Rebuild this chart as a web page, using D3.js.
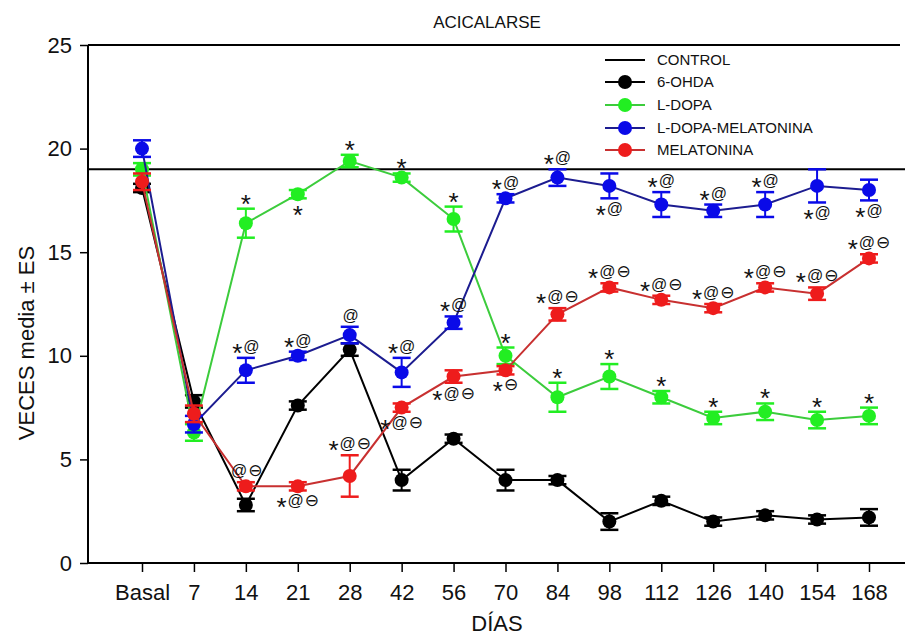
<!DOCTYPE html>
<html>
 <head>
  <title>Acicalarse</title>
  <script src="https://cdnjs.cloudflare.com/ajax/libs/d3/7.8.3/d3.min.js"></script>
  <style>
   body { margin: 0; background: #fff; }
   text { font-family: "Liberation Sans", Arial, sans-serif; fill: #111; }
  </style>
 </head>
 <body>
  <script>
   // values
   const days = ["Basal", "7", "14", "21", "28", "42", "56", "70", "84", "98", "112", "126", "140", "154", "168"];
   const control = 19;

   const ohda     = [18.1, 7.8, 2.8, 7.6, 10.3, 4.0, 6.0, 4.0, 4.0, 2.0, 3.0, 2.0, 2.3, 2.1, 2.2];
   const ohdaErr  = [0.2, 0.3, 0.3, 0.2, 0.3, 0.5, 0.2, 0.5, 0.2, 0.4, 0.2, 0.2, 0.2, 0.2, 0.4];
   const ldopa    = [19.0, 6.3, 16.4, 17.8, 19.4, 18.6, 16.6, 10.0, 8.0, 9.0, 8.0, 7.0, 7.3, 6.9, 7.1];
   const ldopaErr = [0.3, 0.4, 0.7, 0.2, 0.3, 0.2, 0.6, 0.4, 0.7, 0.6, 0.3, 0.3, 0.4, 0.4, 0.4];
   const ldmel    = [20.0, 6.7, 9.3, 10.0, 11.0, 9.2, 11.6, 17.6, 18.6, 18.2, 17.3, 17.0, 17.3, 18.2, 18.0];
   const ldmelErr = [0.4, 0.4, 0.6, 0.2, 0.4, 0.7, 0.3, 0.2, 0.4, 0.6, 0.6, 0.3, 0.6, 0.8, 0.5];
   const mel      = [18.4, 7.2, 3.7, 3.7, 4.2, 7.5, 9.0, 9.3, 12.0, 13.3, 12.7, 12.3, 13.3, 13.0, 14.7];
   const melErr   = [0.4, 0.4, 0.2, 0.2, 1.0, 0.2, 0.3, 0.2, 0.3, 0.2, 0.2, 0.2, 0.2, 0.3, 0.2];

   // significance marks: [day, text, above/below]
   const ldopaMarks = [["14","*","a"],["21","*","b"],["28","*","a"],["42","*","a"],["56","*","a"],["70","*","a"],
                       ["84","*","a"],["98","*","a"],["112","*","a"],["126","*","a"],["140","*","a"],["154","*","a"],["168","*","a"]];
   const ldmelMarks = [["14","*@","a"],["21","*@","a"],["28","@","a"],["42","*@","a"],["56","*@","a"],["70","*@","a"],
                       ["84","*@","a"],["98","*@","b"],["112","*@","a"],["126","*@","a"],["140","*@","a"],["154","*@","b"],["168","*@","b"]];
   const melMarks   = [["14","@⊖","a"],["21","*@⊖","b"],["28","*@⊖","a"],["42","*@⊖","b"],["56","*@⊖","b"],["70","*⊖","b"],
                       ["84","*@⊖","a"],["98","*@⊖","a"],["112","*@⊖","a"],["126","*@⊖","a"],["140","*@⊖","a"],["154","*@⊖","a"],["168","*@⊖","a"]];

   const series = [
    {name: "6-OHDA", vals: ohda, err: ohdaErr, line: "#000", fill: "#000", marks: []},
    {name: "L-DOPA", vals: ldopa, err: ldopaErr, line: "#3ccc3c", fill: "#22ee22", marks: ldopaMarks},
    {name: "L-DOPA-MELATONINA", vals: ldmel, err: ldmelErr, line: "#1c1c90", fill: "#0a0ae8", marks: ldmelMarks},
    {name: "MELATONINA", vals: mel, err: melErr, line: "#c83030", fill: "#ee1c1c", marks: melMarks}
   ];

   const w = 911, h = 637;
   const pL = 88, pR = 905, pT = 45, pB = 563;

   const svg = d3.select("body").append("svg")
                 .attr("width", w)
                 .attr("height", h);

   const x = d3.scalePoint()
               .domain(days)
               .range([142, 869]);
   const y = d3.scaleLinear()
               .domain([0, 25])
               .range([pB, pT]);

   // title
   svg.append("text")
      .attr("x", 487).attr("y", 28)
      .attr("text-anchor", "middle")
      .style("font-size", "17px")
      .text("ACICALARSE");

   // frame top
   svg.append("line")
      .attr("x1", pL).attr("x2", 900)
      .attr("y1", y(25)).attr("y2", y(25))
      .attr("stroke", "#000").attr("stroke-width", 2);

   // control line
   svg.append("line")
      .attr("x1", pL).attr("x2", pR)
      .attr("y1", y(control)).attr("y2", y(control))
      .attr("stroke", "#000").attr("stroke-width", 2);

   const yAxis = d3.axisLeft(y).tickValues([0, 5, 10, 15, 20, 25]).tickSize(8).tickPadding(8);
   const gy = svg.append("g")
      .attr("transform", "translate(" + pL + ",0)")
      .call(yAxis);
   gy.select(".domain").attr("stroke-width", 2).attr("d", "M0," + pT + "V" + pB);
   gy.selectAll(".tick line").attr("stroke-width", 1.5);
   gy.selectAll("text").style("font-size", "22px").attr("font-family", null).attr("fill", "#111");

   const xAxis = d3.axisBottom(x).tickSize(9).tickPadding(12);
   const gx = svg.append("g")
      .attr("transform", "translate(0," + pB + ")")
      .call(xAxis);
   gx.select(".domain").attr("stroke-width", 2).attr("d", "M" + pL + ",0H" + pR);
   gx.selectAll(".tick line").attr("stroke-width", 1.5);
   gx.selectAll("text").style("font-size", "22px").attr("font-family", null).attr("fill", "#111");

   svg.append("text")
      .attr("x", 497).attr("y", 631)
      .attr("text-anchor", "middle")
      .style("font-size", "22px")
      .text("DÍAS");

   svg.append("text")
      .attr("transform", "translate(34,343) rotate(-90)")
      .attr("text-anchor", "middle")
      .style("font-size", "22px")
      .text("VECES  media ± ES");

   const line = d3.line()
                  .x((d, i) => x(days[i]))
                  .y(d => y(d));

   series.forEach(s => {
    const g = svg.append("g");
    g.append("path")
     .datum(s.vals)
     .attr("d", line)
     .attr("fill", "none")
     .attr("stroke", s.line)
     .attr("stroke-width", 2);

    const eb = g.selectAll(".eb")
                .data(s.vals)
                .enter()
                .append("g");
    eb.append("line")
      .attr("x1", (d, i) => x(days[i])).attr("x2", (d, i) => x(days[i]))
      .attr("y1", (d, i) => y(d + s.err[i])).attr("y2", (d, i) => y(d - s.err[i]))
      .attr("stroke", s.fill).attr("stroke-width", 2);
    [1, -1].forEach(sg => {
     eb.append("line")
       .attr("x1", (d, i) => x(days[i]) - 9).attr("x2", (d, i) => x(days[i]) + 9)
       .attr("y1", (d, i) => y(d + sg * s.err[i])).attr("y2", (d, i) => y(d + sg * s.err[i]))
       .attr("stroke", s.fill).attr("stroke-width", 2.5);
    });

    g.selectAll("circle")
     .data(s.vals)
     .enter()
     .append("circle")
     .attr("cx", (d, i) => x(days[i]))
     .attr("cy", d => y(d))
     .attr("r", 7)
     .attr("fill", s.fill);
   });

   // significance labels
   series.forEach(s => {
    s.marks.forEach(m => {
     const i = days.indexOf(m[0]);
     const v = s.vals[i], e = s.err[i];
     const by = m[2] === "a" ? y(v + e) - 6 : y(v - e) + 16;
     const t = svg.append("text")
                  .attr("x", x(m[0]))
                  .attr("y", by)
                  .attr("text-anchor", "middle");
     let shift = 0;
     Array.from(m[1]).forEach(ch => {
      const sp = t.append("tspan");
      if (ch === "*") {
       sp.style("font-size", "26px").attr("dy", 10 - shift);
       shift = 10;
      } else {
       sp.style("font-size", ch === "@" ? "16px" : "17px")
         .attr("dy", -shift)
         .attr("dx", 1);
       if (ch !== "@") sp.style("font-family", "DejaVu Sans");
       shift = 0;
      }
      sp.text(ch);
     });
    });
   });

   // legend
   const legY = [60, 82, 105, 128, 150];
   const leg = svg.append("g");
   leg.append("line")
      .attr("x1", 605).attr("x2", 645)
      .attr("y1", legY[0]).attr("y2", legY[0])
      .attr("stroke", "#000").attr("stroke-width", 2);
   leg.append("text")
      .attr("x", 657).attr("y", legY[0] + 5)
      .style("font-size", "15px")
      .text("CONTROL");
   series.forEach((s, k) => {
    const yy = legY[k + 1];
    leg.append("line")
       .attr("x1", 605).attr("x2", 645)
       .attr("y1", yy).attr("y2", yy)
       .attr("stroke", s.line).attr("stroke-width", 2);
    leg.append("circle")
       .attr("cx", 625).attr("cy", yy)
       .attr("r", 7)
       .attr("fill", s.fill);
    leg.append("text")
       .attr("x", 657).attr("y", yy + 5)
       .style("font-size", "15px")
       .text(s.name);
   });
  </script>
 </body>
</html>
